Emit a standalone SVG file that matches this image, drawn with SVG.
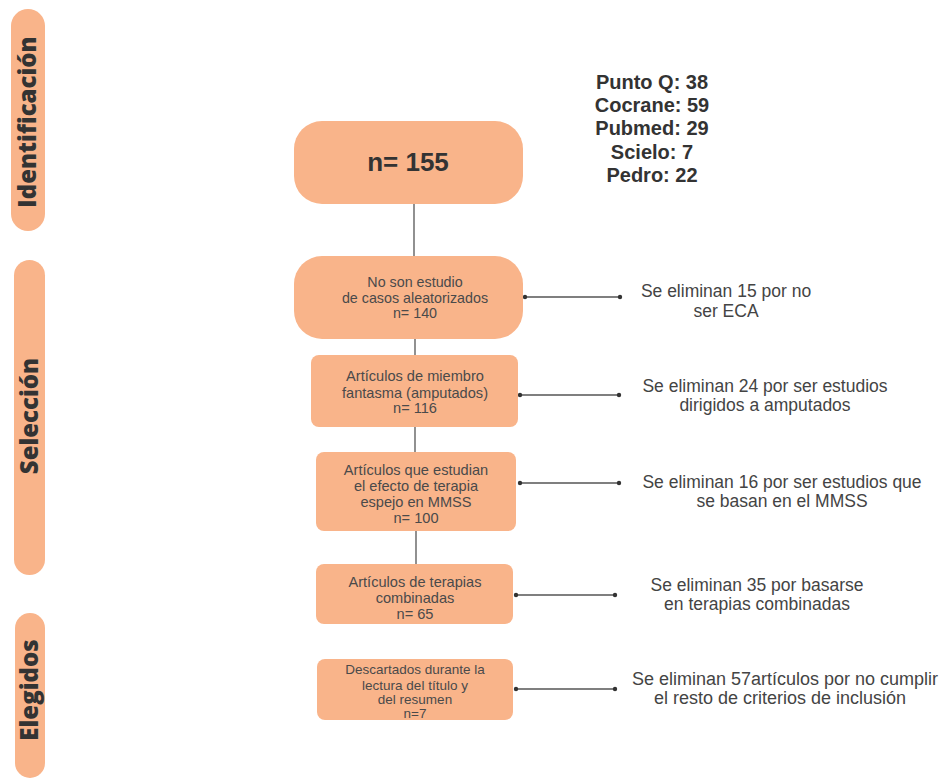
<svg xmlns="http://www.w3.org/2000/svg" width="941" height="778" viewBox="0 0 941 778">
<style>
.bar{fill:#F9B48A}
.node{fill:#F9B48A}
.bl{font-family:"Open Sans","Liberation Sans",sans-serif;font-weight:800;font-size:24px;fill:#333;text-anchor:middle}
.nt{font-family:"Liberation Sans",Arial,sans-serif;font-size:14.6px;fill:#4a4a4a;text-anchor:middle}
.nt2{font-size:14.3px}
.nt3{font-size:13.5px}
.big{font-family:"Liberation Sans",Arial,sans-serif;font-weight:bold;font-size:26px;fill:#333;text-anchor:middle}
.src{font-family:"Liberation Sans",Arial,sans-serif;font-weight:bold;font-size:20px;fill:#333;text-anchor:middle}
.rt{font-family:"Liberation Sans",Arial,sans-serif;font-size:17.5px;fill:#444;text-anchor:middle}
.rt2{font-size:18px}
.ln{stroke:#555;stroke-width:1.3;fill:none}
.dot{fill:#333}
</style>
<rect width="941" height="778" fill="#fff"/>
<g id="phase-identificacion">
<rect class="bar" x="11" y="9" width="34" height="222" rx="17"/>
<text class="bl" transform="translate(36,122) rotate(-90)">Identificación</text>
</g>
<g id="phase-seleccion">
<rect class="bar" x="14" y="260" width="31" height="315" rx="15.5"/>
<text class="bl" transform="translate(38,416) rotate(-90)">Selección</text>
</g>
<g id="phase-elegidos">
<rect class="bar" x="15" y="613" width="30" height="165" rx="15"/>
<text class="bl" transform="translate(38,690) rotate(-90)">Elegidos</text>
</g>
<g id="sources">
<text class="src" x="652" y="89">Punto Q: 38</text>
<text class="src" x="652" y="112">Cocrane: 59</text>
<text class="src" x="652" y="135">Pubmed: 29</text>
<text class="src" x="652" y="159">Scielo: 7</text>
<text class="src" x="652" y="182">Pedro: 22</text>
</g>
<g id="connectors">
<line class="ln" x1="414" y1="204" x2="414" y2="256"/>
<line class="ln" x1="415" y1="339" x2="415" y2="355"/>
<line class="ln" x1="415" y1="427" x2="415" y2="452"/>
<line class="ln" x1="416" y1="531" x2="416" y2="564"/>
<line class="ln" x1="525" y1="297" x2="620" y2="297"/>
<circle class="dot" cx="525" cy="297" r="2.2"/><circle class="dot" cx="620" cy="297" r="2.2"/>
<line class="ln" x1="520" y1="395" x2="619" y2="395"/>
<circle class="dot" cx="520" cy="395" r="2.2"/><circle class="dot" cx="619" cy="395" r="2.2"/>
<line class="ln" x1="520" y1="483" x2="619" y2="483"/>
<circle class="dot" cx="520" cy="483" r="2.2"/><circle class="dot" cx="619" cy="483" r="2.2"/>
<line class="ln" x1="516" y1="595" x2="615" y2="595"/>
<circle class="dot" cx="516" cy="595" r="2.2"/><circle class="dot" cx="615" cy="595" r="2.2"/>
<line class="ln" x1="516" y1="689" x2="615" y2="689"/>
<circle class="dot" cx="516" cy="689" r="2.2"/><circle class="dot" cx="615" cy="689" r="2.2"/>
</g>
<g id="n155">
<rect class="node" x="294" y="121" width="229" height="83" rx="28"/>
<text class="big" x="408" y="171">n= 155</text>
</g>
<g id="n140">
<rect class="node" x="294" y="256" width="229" height="83" rx="28"/>
<text class="nt nt2" x="415" y="287">No son estudio</text>
<text class="nt nt2" x="415" y="303">de casos aleatorizados</text>
<text class="nt nt2" x="415" y="318">n= 140</text>
</g>
<g id="n116">
<rect class="node" x="311" y="355" width="207" height="72" rx="8"/>
<text class="nt" x="415" y="381">Artículos de miembro</text>
<text class="nt" x="415" y="398">fantasma (amputados)</text>
<text class="nt" x="415" y="413">n= 116</text>
</g>
<g id="n100">
<rect class="node" x="316" y="452" width="200" height="79" rx="8"/>
<text class="nt" x="416" y="475">Artículos que estudian</text>
<text class="nt" x="416" y="491">el efecto de terapia</text>
<text class="nt" x="416" y="507">espejo en MMSS</text>
<text class="nt" x="416" y="523">n= 100</text>
</g>
<g id="n65">
<rect class="node" x="316" y="564" width="197" height="60" rx="8"/>
<text class="nt" x="415" y="587">Artículos de terapias</text>
<text class="nt" x="415" y="603">combinadas</text>
<text class="nt" x="415" y="619">n= 65</text>
</g>
<g id="n7">
<rect class="node" x="317" y="659" width="196" height="61" rx="8"/>
<text class="nt nt3" x="415" y="673.5">Descartados durante la</text>
<text class="nt nt3" x="415" y="689.5">lectura del título y</text>
<text class="nt nt3" x="415" y="703.5">del resumen</text>
<text class="nt nt3" x="415" y="717.5">n=7</text>
</g>
<g id="excl-15">
<text class="rt" x="726" y="297">Se eliminan 15 por no</text>
<text class="rt" x="726" y="317">ser ECA</text>
</g>
<g id="excl-24">
<text class="rt" x="765" y="392">Se eliminan 24 por ser estudios</text>
<text class="rt" x="765" y="411">dirigidos a amputados</text>
</g>
<g id="excl-16">
<text class="rt" x="782" y="488">Se eliminan 16 por ser estudios que</text>
<text class="rt" x="782" y="507">se basan en el MMSS</text>
</g>
<g id="excl-35">
<text class="rt" x="757" y="591">Se eliminan 35 por basarse</text>
<text class="rt" x="757" y="610">en terapias combinadas</text>
</g>
<g id="excl-57">
<text class="rt rt2" x="785" y="685">Se eliminan 57artículos por no cumplir</text>
<text class="rt rt2" x="780" y="704">el resto de criterios de inclusión</text>
</g>
</svg>
